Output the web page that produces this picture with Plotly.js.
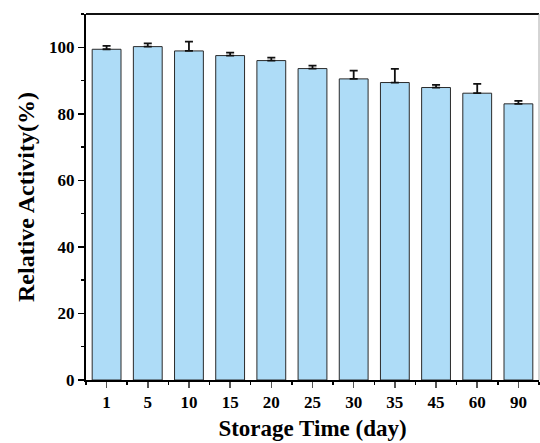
<!DOCTYPE html>
<html>
<head>
<meta charset="utf-8">
<script src="https://cdn.plot.ly/plotly-3.0.1.min.js"></script>
<style>
  html, body { margin: 0; padding: 0; background: #fff; }
  #chart { width: 540px; height: 443px; }
</style>
</head>
<body>
<div id="chart"></div>
<script>
// Storage stability: relative activity over storage time
const days = ['1', '5', '10', '15', '20', '25', '30', '35', '45', '60', '90'];
const activity = [99.4, 100.2, 98.9, 97.5, 96.0, 93.6, 90.5, 89.4, 87.9, 86.2, 83.0];
const activityErr = [1.0, 1.0, 2.8, 0.9, 0.9, 0.9, 2.5, 4.1, 0.8, 2.8, 0.9];
const yTicks = [0, 20, 40, 60, 80, 100];

const font = 'Liberation Serif, Times New Roman, serif';
const positions = days.map((_, i) => i);

const trace = {
  type: 'bar',
  x: positions,
  y: activity,
  width: 0.7,
  marker: { color: '#AEDCF7', line: { color: '#2a2a2a', width: 1 } },
  error_y: {
    type: 'data',
    symmetric: false,
    array: activityErr,
    arrayminus: activityErr.map(() => 0),
    color: '#111',
    thickness: 1.8,
    width: 4
  },
  hoverinfo: 'none'
};

const layout = {
  width: 540,
  height: 443,
  margin: { l: 86, r: 1, t: 14, b: 63 },
  paper_bgcolor: '#fff',
  plot_bgcolor: '#fff',
  showlegend: false,
  font: { family: font, color: '#000' },
  xaxis: {
    range: [-0.5, 10.5],
    tickmode: 'array',
    tickvals: positions,
    ticktext: days,
    ticks: 'outside',
    ticklen: 6,
    tickwidth: 1.5,
    tickcolor: '#555',
    showline: true,
    linecolor: '#000',
    linewidth: 2,
    mirror: false,
    showgrid: false,
    zeroline: false,
    tickfont: { family: font, size: 17, weight: 'bold', color: '#000' },
    minor: { tick0: 0.5, dtick: 1, ticks: 'outside', ticklen: 3, tickwidth: 1.5, tickcolor: '#000', showgrid: false },
    title: { text: 'Storage Time (day)', font: { family: font, size: 23, weight: 'bold', color: '#000' }, standoff: 8 }
  },
  yaxis: {
    range: [0, 110],
    tickmode: 'array',
    tickvals: yTicks,
    ticks: 'outside',
    ticklen: 6,
    tickwidth: 1.5,
    tickcolor: '#000',
    showline: true,
    linecolor: '#000',
    linewidth: 2,
    showgrid: false,
    zeroline: false,
    tickfont: { family: font, size: 17, weight: 'bold', color: '#000' },
    minor: { tick0: 10, dtick: 20, ticks: 'outside', ticklen: 3, tickwidth: 1.5, tickcolor: '#000', showgrid: false },
    title: { text: 'Relative Activity(%)', font: { family: font, size: 24, weight: 'bold', color: '#000' }, standoff: 8 }
  },
  shapes: [
    { type: 'line', xref: 'paper', yref: 'paper', x0: 0, x1: 1, y0: 1, y1: 1, line: { color: '#111', width: 2 } },
    { type: 'line', xref: 'paper', yref: 'paper', x0: 1, x1: 1, y0: 0, y1: 1, line: { color: '#aaa', width: 1 } }
  ]
};

Plotly.newPlot('chart', [trace], layout, { displayModeBar: false, staticPlot: true });
</script>
</body>
</html>
